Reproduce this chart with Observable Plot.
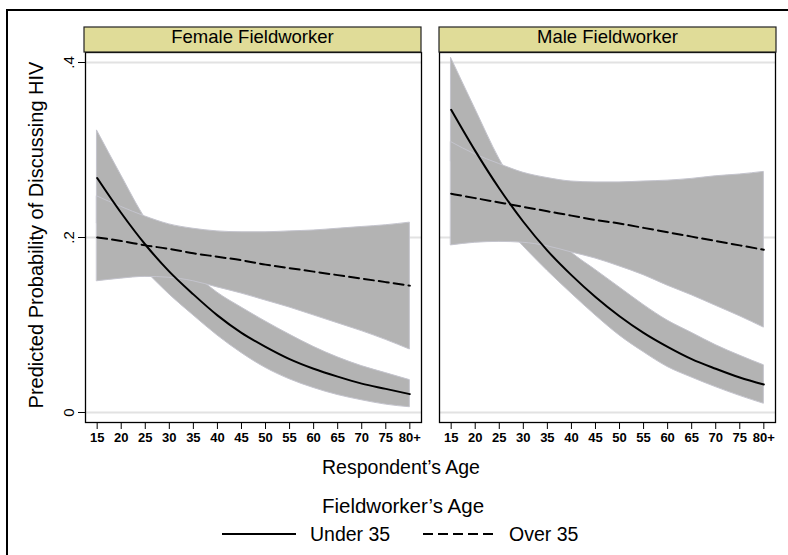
<!DOCTYPE html>
<html><head><meta charset="utf-8">
<script src="https://cdn.jsdelivr.net/npm/d3@7"></script>
<script src="https://cdn.jsdelivr.net/npm/@observablehq/plot@0.6"></script>
<style>
body{margin:0;background:#fff;}
#wrap{position:relative;width:788px;height:555px;overflow:hidden;font-family:"Liberation Sans",Arial,Helvetica,sans-serif;}
#wrap svg{position:absolute;left:0;top:0;}
</style></head><body><div id="wrap"></div>
<script>
const ages = [15,20,25,30,35,40,45,50,55,60,65,70,75,80];
const xTickLabels = ["15","20","25","30","35","40","45","50","55","60","65","70","75","80+"];
const yTicks = [0,0.2,0.4];
const yTickLabels = ["0",".2",".4"];
const panels = ["Female Fieldworker","Male Fieldworker"];
const groups = ["Under 35","Over 35"];

const femaleUnderFit = [0.268,0.228,0.192,0.161,0.135,0.111,0.091,0.075,0.061,0.050,0.041,0.033,0.027,0.021];
const femaleUnderLo  = [0.216,0.188,0.162,0.135,0.111,0.088,0.068,0.051,0.038,0.028,0.020,0.014,0.009,0.006];
const femaleUnderHi  = [0.322,0.271,0.222,0.188,0.160,0.137,0.120,0.104,0.089,0.075,0.063,0.053,0.045,0.037];
const femaleOverFit  = [0.200,0.196,0.191,0.187,0.182,0.178,0.174,0.169,0.165,0.161,0.157,0.153,0.149,0.145];
const femaleOverLo   = [0.150,0.153,0.155,0.154,0.150,0.143,0.136,0.128,0.120,0.111,0.102,0.093,0.083,0.072];
const femaleOverHi   = [0.247,0.235,0.224,0.215,0.210,0.207,0.206,0.206,0.207,0.208,0.210,0.212,0.214,0.217];

const maleUnderFit = [0.346,0.299,0.256,0.218,0.185,0.157,0.132,0.110,0.091,0.075,0.061,0.050,0.040,0.032];
const maleUnderLo  = [0.287,0.252,0.220,0.190,0.162,0.136,0.111,0.088,0.069,0.052,0.040,0.029,0.019,0.010];
const maleUnderHi  = [0.405,0.347,0.290,0.245,0.210,0.183,0.163,0.143,0.123,0.105,0.091,0.077,0.065,0.054];
const maleOverFit  = [0.250,0.245,0.240,0.235,0.230,0.225,0.220,0.216,0.211,0.206,0.201,0.196,0.191,0.186];
const maleOverLo   = [0.191,0.194,0.195,0.194,0.190,0.183,0.176,0.167,0.157,0.145,0.134,0.122,0.110,0.097];
const maleOverHi   = [0.309,0.295,0.284,0.274,0.268,0.264,0.263,0.263,0.264,0.265,0.267,0.270,0.272,0.275];

const series = [
  [panels[0], groups[0], femaleUnderFit, femaleUnderLo, femaleUnderHi],
  [panels[0], groups[1], femaleOverFit, femaleOverLo, femaleOverHi],
  [panels[1], groups[0], maleUnderFit, maleUnderLo, maleUnderHi],
  [panels[1], groups[1], maleOverFit, maleOverLo, maleOverHi]
];
const rows = [];
for (const g of groups) for (const [panel, group, fit, lo, hi] of series) {
  if (group !== g) continue;
  ages.forEach((age, i) => rows.push({panel, group, age, fit: fit[i], lo: lo[i], hi: hi[i]}));
}

const font = '"Liberation Sans",Arial,Helvetica,sans-serif';
const chart = Plot.plot({
  width: 788, height: 480,
  marginLeft: 84, marginRight: 12, marginTop: 52, marginBottom: 58,
  style: {fontFamily: font, background: "transparent", color: "#000", overflow: "visible"},
  fx: {domain: panels, paddingInner: 0.0507, paddingOuter: 0, axis: null},
  x: {domain: [12.575, 82.425]},
  y: {domain: [-0.01143, 0.41143]},
  marks: [
    Plot.gridY(yTicks, {stroke: "#e2e2e2", strokeOpacity: 1, strokeWidth: 2}),
    Plot.areaY(rows, {fx: "panel", x: "age", y1: "lo", y2: "hi", z: "group", curve: "monotone-x", fill: "#b3b3b3", fillOpacity: 1, stroke: "#c4c4cd", strokeWidth: 1}),
    Plot.line(rows.filter(d => d.group === groups[0]), {fx: "panel", x: "age", y: "fit", curve: "monotone-x", stroke: "#000", strokeWidth: 2}),
    Plot.line(rows.filter(d => d.group === groups[1]), {fx: "panel", x: "age", y: "fit", curve: "monotone-x", stroke: "#000", strokeWidth: 2, strokeDasharray: "10,5"}),
    Plot.frame({stroke: "#000", strokeWidth: 1.3}),
    Plot.axisX(ages, {tickSize: 7, tickPadding: 3, tickFormat: d => xTickLabels[ages.indexOf(d)], fontSize: 13, fontWeight: "bold", label: null}),
    Plot.axisY(yTicks, {tickSize: 7, tickPadding: 5, tickRotate: -90, textAnchor: "middle", lineAnchor: "bottom", tickFormat: d => yTickLabels[yTicks.indexOf(d)], fontSize: 15, label: null})
  ]
});
const wrap = document.getElementById("wrap");
wrap.appendChild(chart);

// overlay: frame lines, strip headers, titles, legend
const ns = "http://www.w3.org/2000/svg";
const ov = document.createElementNS(ns, "svg");
ov.setAttribute("width", 788); ov.setAttribute("height", 555);
ov.style.fontFamily = font;
function el(tag, attrs, text) {
  const e = document.createElementNS(ns, tag);
  for (const k in attrs) e.setAttribute(k, attrs[k]);
  if (text !== undefined) e.textContent = text;
  ov.appendChild(e);
  return e;
}
el("line", {x1: 6, y1: 10, x2: 790, y2: 10, stroke: "#000", "stroke-width": 2});
el("line", {x1: 7, y1: 9, x2: 7, y2: 560, stroke: "#000", "stroke-width": 2});
const strips = [[84, panels[0]], [439, panels[1]]];
for (const [x0, name] of strips) {
  el("rect", {x: x0, y: 27, width: 337, height: 25, fill: "#e0dc98", stroke: "#222", "stroke-width": 1.2});
  el("text", {x: x0 + 168.5, y: 43.3, "text-anchor": "middle", "font-size": 18.5, fill: "#000"}, name);
}
el("text", {transform: "translate(43,235) rotate(-90)", "text-anchor": "middle", "font-size": 20, fill: "#000"}, "Predicted Probability of Discussing HIV");
el("text", {x: 401, y: 474.3, "text-anchor": "middle", "font-size": 19.5, fill: "#000"}, "Respondent\u2019s Age");
el("text", {x: 403, y: 512.7, "text-anchor": "middle", "font-size": 20.5, fill: "#000"}, "Fieldworker\u2019s Age");
el("line", {x1: 222, y1: 534, x2: 296, y2: 534, stroke: "#000", "stroke-width": 2});
el("text", {x: 310, y: 541, "font-size": 19.5, fill: "#000"}, groups[0]);
el("line", {x1: 423, y1: 534, x2: 497, y2: 534, stroke: "#000", "stroke-width": 2, "stroke-dasharray": "10,5"});
el("text", {x: 509, y: 541, "font-size": 19.5, fill: "#000"}, groups[1]);
wrap.appendChild(ov);
</script></body></html>
